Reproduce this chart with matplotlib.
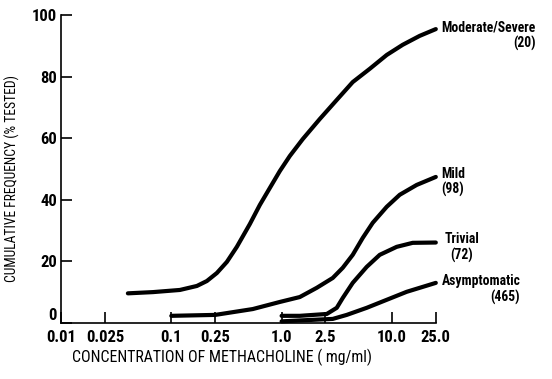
import matplotlib
matplotlib.use("Agg")
import matplotlib.pyplot as plt
from matplotlib import font_manager as fm

# the original uses a narrow bold face; take a condensed one if the machine has it
fonts = [(f.name, f.stretch) for f in fm.fontManager.ttflist]
family, stretch, fs = "Liberation Sans", "normal", 10.0
for want in ["Liberation Sans Narrow", "Roboto Condensed", "DejaVu Sans Condensed", "Open Sans Condensed"]:
    if any(n == want for n, s in fonts):
        family, stretch, fs = want, "normal", 12.0
        break
else:
    for base in ["Roboto", "DejaVu Sans", "Noto Sans", "Open Sans"]:
        if any(n == base and s in ("condensed", "semi-condensed", "extra-condensed") for n, s in fonts):
            family, stretch, fs = base, "condensed", 12.0
            break

plt.rcParams["font.family"] = [family, "DejaVu Sans"]
plt.rcParams["font.stretch"] = stretch
plt.rcParams["font.weight"] = "bold"

# concentration of methacholine (mg/ml) vs cumulative frequency (% tested)
mod_x = [0.0404, 0.0681, 0.1197, 0.1706, 0.2101, 0.2588, 0.3189, 0.3928, 0.5152, 0.6346, 0.7816,
         0.9632, 1.187, 1.556, 2.218, 3.162, 4.414, 6.295, 8.973, 12.52, 17.85, 25.0]
mod_y = [9.6, 10.0, 10.7, 12.0, 13.6, 16.2, 19.8, 24.7, 32.1, 38.3, 43.8,
         49.3, 54.2, 59.7, 66.2, 72.4, 78.2, 82.5, 87.0, 90.3, 93.2, 95.4]

mild_x = [0.1, 0.25, 0.548, 0.963, 1.462, 2.084, 2.910, 3.584, 4.414, 5.439, 6.700, 8.973, 11.77, 16.77, 25.0]
mild_y = [2.3, 2.6, 4.5, 6.8, 8.4, 11.4, 14.6, 17.9, 22.1, 27.6, 32.5, 37.7, 41.6, 44.8, 47.4]

triv_x = [1.0, 1.462, 2.567, 3.162, 3.584, 4.414, 5.911, 7.753, 11.05, 15.43, 25.0]
triv_y = [2.3, 2.3, 2.9, 4.9, 8.1, 13.0, 18.2, 22.1, 24.7, 26.0, 26.1]

asym_x = [1.0, 1.462, 2.910, 3.895, 5.911, 8.973, 13.62, 25.0]
asym_y = [0.5, 0.8, 1.3, 2.6, 4.9, 7.5, 10.1, 13.0]

names = ["Moderate/Severe", "Mild", "Trivial", "Asymptomatic"]
counts = [20, 98, 72, 465]
curves = [(mod_x, mod_y), (mild_x, mild_y), (triv_x, triv_y), (asym_x, asym_y)]
count_align = ["right", "left", "center", "right"]

xticks = [0.01, 0.025, 0.1, 0.25, 1.0, 2.5, 10.0, 25.0]
xtick_labels = ["0.01", "0.025", "0.1", "0.25", "1.0", "2.5", "10.0", "25.0"]
yticks = [0, 20, 40, 60, 80, 100]

fig = plt.figure(figsize=(5.52, 3.79), dpi=100)
ax = fig.add_axes([0.1105, 0.148, 0.679, 0.8126])

label_offsets = [(4, 6.5), (4, 7.5), (6, 7.5), (4, 6.5)]
for (xs, ys), name, n, al, off in zip(curves, names, counts, count_align, label_offsets):
    ax.plot(xs, ys, color="black", lw=3.0, solid_capstyle="round",
            solid_joinstyle="round", clip_on=False)
    ax.annotate(f"{name}\n({n})", xy=(xs[-1], ys[-1]), xytext=off,
                textcoords="offset points", ha="left", va="top",
                multialignment=al, fontsize=fs * 0.82, linespacing=1.15)

ax.set_xscale("log")
ax.set_xlim(0.01, 25)
ax.set_ylim(0, 100)
ax.set_xticks(xticks)
ax.set_xticklabels(xtick_labels)
ax.minorticks_off()
ax.set_yticks(yticks)
ax.tick_params(direction="in", length=8, width=1.2, labelsize=fs, pad=3)
ax.tick_params(axis="x", pad=5)
# the zero on the y axis sits a little above the axis line, clear of 0.01
ax.get_yticklabels()[0].set_verticalalignment("bottom")

for s in ["top", "right"]:
    ax.spines[s].set_visible(False)
for s in ["left", "bottom"]:
    ax.spines[s].set_linewidth(1.2)

ax.set_xlabel("CONCENTRATION OF METHACHOLINE ( mg/ml)", fontsize=fs * 0.95)
ax.set_ylabel("CUMULATIVE FREQUENCY (% TESTED)", fontsize=fs * 0.82)
ax.xaxis.set_label_coords(0.43, -0.085)
ax.yaxis.set_label_coords(-0.11, 0.47)

fig.savefig("out.png", dpi=100)
